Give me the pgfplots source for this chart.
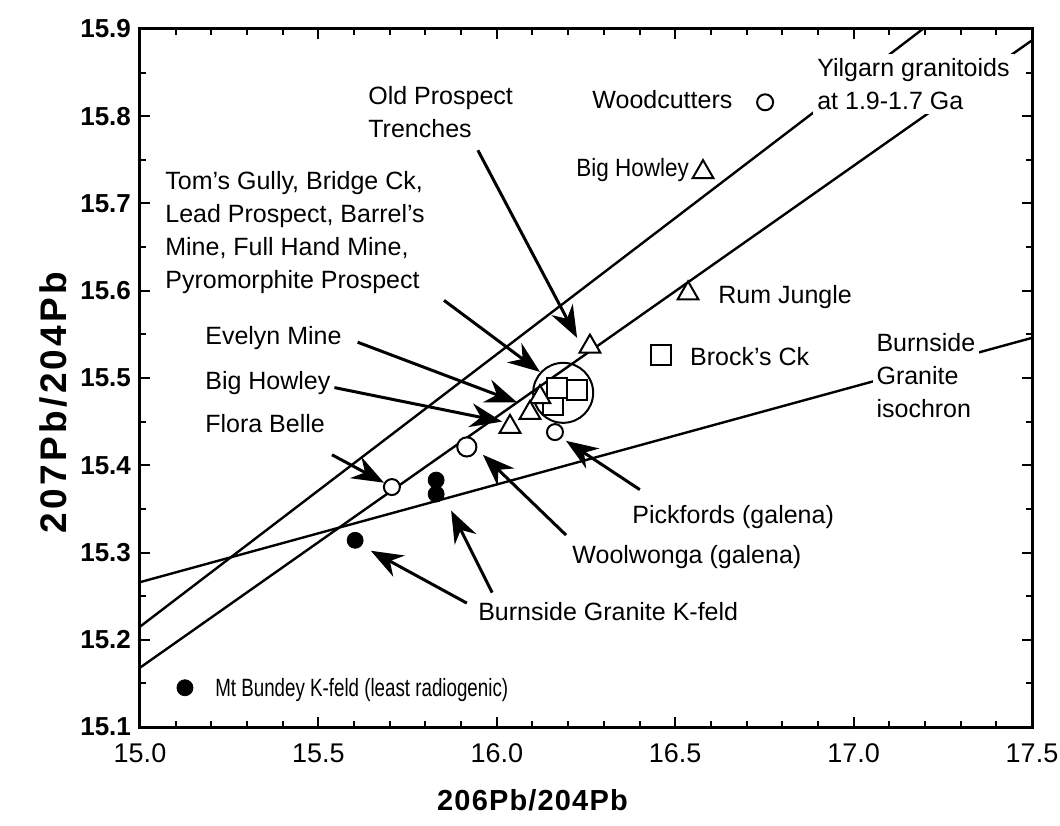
\documentclass[border=0pt]{standalone}
\usepackage{fontspec}
\setmainfont{Liberation Sans}
\usepackage{pgfplots}
\pgfplotsset{compat=1.18}
\usetikzlibrary{arrows.meta}
\newcommand\lbl{\fontsize{12.5}{16.5}\selectfont}
\begin{document}
\begin{tikzpicture}
\begin{axis}[
  scale only axis, width=446pt, height=349pt,
  xmin=15, xmax=17.5, ymin=15.1, ymax=15.9,
  xtick={15,15.5,16,16.5,17,17.5},
  ytick={15.1,15.2,15.3,15.4,15.5,15.6,15.7,15.8,15.9},
  minor x tick num=4, minor y tick num=1,
  tick align=inside,
  major tick length=5pt, minor tick length=3pt,
  every tick/.style={line width=1pt,black},
  axis line style={line width=1.5pt},
  /pgf/number format/fixed, /pgf/number format/fixed zerofill,
  /pgf/number format/precision=1, /pgf/number format/assume math mode=true,
  xticklabel style={font=\fontsize{13.5}{15}\selectfont, yshift=-5pt},
  yticklabel style={font=\bfseries\fontsize{13}{15}\selectfont, xshift=-1pt},
  xlabel={206Pb/204Pb}, ylabel={207Pb/204Pb},
  xlabel style={font=\bfseries\fontsize{14.5}{16}\selectfont\addfontfeature{LetterSpace=4}, at={(axis description cs:0.44,-0.105)}, anchor=center},
  ylabel style={font=\bfseries\fontsize{18.5}{20}\selectfont\addfontfeature{LetterSpace=9}, at={(axis description cs:-0.097,0.465)}, anchor=center},
]
\coordinate (ll) at (rel axis cs:0,0);
\coordinate (ur) at (rel axis cs:1,1);
% reference lines
\addplot[no marks, line width=1.2pt] coordinates {(15,15.215) (17.194,15.9)};
\addplot[no marks, line width=1.2pt] coordinates {(15,15.168) (17.5,15.887)};
\addplot[no marks, line width=1.2pt] coordinates {(15,15.266) (17.5,15.546)};
% labels with white background over lines
\node[anchor=west, align=left, fill=white, inner sep=2pt, font=\lbl] at (axis cs:16.886,15.837) {Yilgarn granitoids\\at 1.9-1.7 Ga};
\node[anchor=west, align=left, fill=white, inner sep=2pt, font=\lbl] at (axis cs:17.052,15.503) {Burnside\\Granite\\isochron};
% big circle
\addplot[only marks, mark=o, mark size=15pt, mark options={line width=1pt}] coordinates {(16.186,15.483)};
% squares
\addplot[only marks, mark=square*, mark size=5pt, mark options={fill=white, draw=black, line width=1pt}] coordinates {(16.157,15.469) (16.169,15.489) (16.225,15.486) (16.460,15.526)};
% triangles
\addplot[only marks, mark=triangle*, mark size=6pt, mark options={fill=white, draw=black, line width=1pt}] coordinates {(16.578,15.736) (16.536,15.597) (16.261,15.536) (16.121,15.478) (16.093,15.460) (16.037,15.444)};
% open circles
\addplot[only marks, mark=*, mark size=4pt, mark options={fill=white, draw=black, line width=1pt}] coordinates {(16.752,15.816) (16.163,15.438) (15.706,15.375)};
\addplot[only marks, mark=*, mark size=4.8pt, mark options={fill=white, draw=black, line width=1pt}] coordinates {(15.916,15.421)};
% filled circles
\addplot[only marks, mark=*, mark size=4pt, mark options={fill=black, draw=black}] coordinates {(15.830,15.383) (15.830,15.367) (15.603,15.314) (15.126,15.145)};
% arrows
\tikzset{arr/.style={line width=1.5pt, -{Stealth[length=16pt,width=12pt]}}}
\draw[arr] (axis cs:15.947,15.761) -- (axis cs:16.225,15.546);
\draw[arr] (axis cs:15.852,15.589) -- (axis cs:16.121,15.507);
\draw[arr] (axis cs:15.610,15.541) -- (axis cs:16.057,15.472);
\draw[arr] (axis cs:15.545,15.489) -- (axis cs:16.015,15.450);
\draw[arr] (axis cs:15.538,15.412) -- (axis cs:15.684,15.380);
\draw[arr] (axis cs:16.194,15.320) -- (axis cs:15.961,15.412);
\draw[arr] (axis cs:16.401,15.372) -- (axis cs:16.194,15.428);
\draw[arr] (axis cs:15.987,15.254) -- (axis cs:15.872,15.348);
\draw[arr] (axis cs:15.916,15.242) -- (axis cs:15.647,15.302);
% text labels
\node[anchor=west, align=left, inner sep=0pt, font=\lbl] at (axis cs:15.639,15.805) {Old Prospect\\Trenches};
\node[anchor=west, align=left, inner sep=0pt, font=\lbl] at (axis cs:15.070,15.667) {Tom's Gully, Bridge Ck,\\Lead Prospect, Barrel's\\Mine, Full Hand Mine,\\Pyromorphite Prospect};
\node[anchor=west, inner sep=0pt, font=\lbl] at (axis cs:15.182,15.546) {Evelyn Mine};
\node[anchor=west, inner sep=0pt, font=\lbl] at (axis cs:15.182,15.494) {Big Howley};
\node[anchor=west, inner sep=0pt, font=\lbl] at (axis cs:15.182,15.448) {Flora Belle};
\node[anchor=west, inner sep=0pt, font=\lbl] at (axis cs:16.211,15.295) {Woolwonga (galena)};
\node[anchor=west, inner sep=0pt, font=\lbl] at (axis cs:16.379,15.341) {Pickfords (galena)};
\node[anchor=west, inner sep=0pt, font=\lbl] at (axis cs:15.947,15.232) {Burnside Granite K-feld};
\node[anchor=west, inner sep=0pt, font=\lbl] at (axis cs:15.210,15.142) {\scalebox{0.75}[1]{Mt Bundey K-feld (least radiogenic)}};
\node[anchor=west, inner sep=0pt, font=\lbl] at (axis cs:16.267,15.819) {Woodcutters};
\node[anchor=west, inner sep=0pt, font=\lbl] at (axis cs:16.222,15.738) {\scalebox{0.9}[1]{Big Howley}};
\node[anchor=west, inner sep=0pt, font=\lbl] at (axis cs:16.620,15.593) {Rum Jungle};
\node[anchor=west, inner sep=0pt, font=\lbl] at (axis cs:16.541,15.524) {Brock's Ck};
\end{axis}
\pgfresetboundingbox
\path (ll) ++(-70pt,-49pt) coordinate (a);
\path (ur) ++(14pt,14.5pt) coordinate (b);
\path (a) rectangle (b);
\end{tikzpicture}
\end{document}
